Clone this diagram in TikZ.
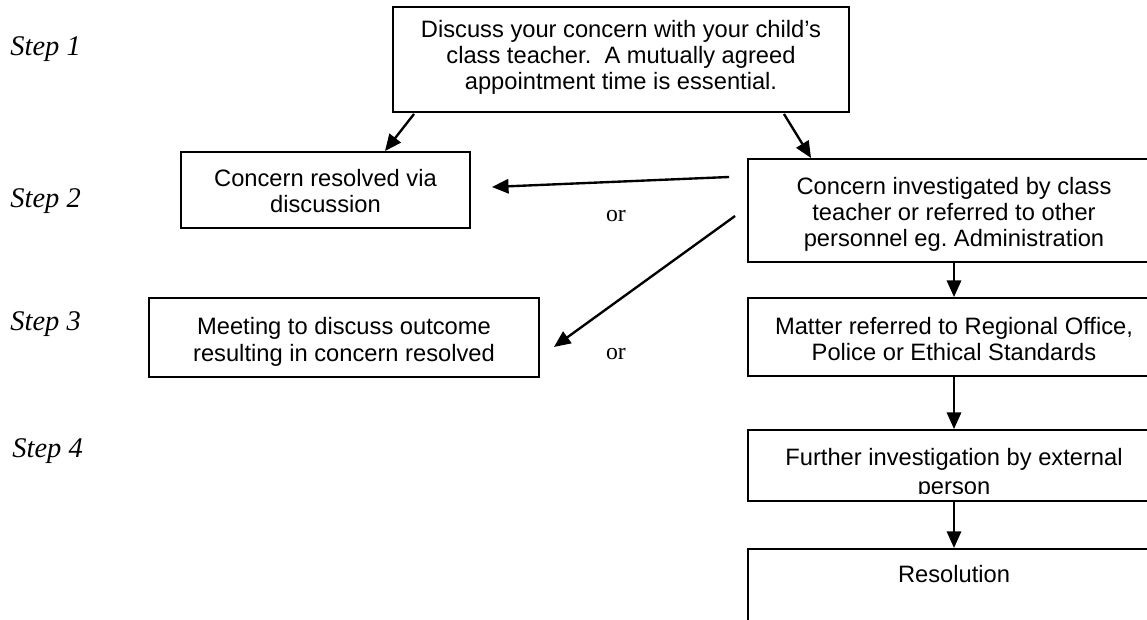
\documentclass[tikz,border=0pt]{standalone}
\usepackage{fontspec}
\setmainfont{Liberation Serif}
\setsansfont{Liberation Sans}
\usetikzlibrary{calc,arrows.meta}
\newcommand{\pxl}{0.4219pt}
\begin{document}
\begin{tikzpicture}
	[x=\pxl,y=-\pxl,
	box/.style={rectangle, draw=black, line width=0.8pt, align=center, inner sep=0pt,
		font=\sffamily\fontsize{10pt}{11pt}\selectfont},
	steplbl/.style={anchor=base west, inner sep=0pt, font=\itshape\fontsize{12pt}{14pt}\selectfont},
	orlbl/.style={anchor=base, inner sep=0pt, font=\fontsize{10pt}{12pt}\selectfont},
	arr/.style={line width=1pt, -{Triangle[length=7pt,width=6pt]}}]
	\useasboundingbox (0,0) rectangle (1147,620);
	\clip (0,0) rectangle (1147,620);

	\node[steplbl] (s1) at (10,56)  {Step 1};
	\node[steplbl] (s2) at (10,208) {Step 2};
	\node[steplbl] (s3) at (10,331) {Step 3};
	\node[steplbl] (s4) at (12,458) {Step 4};

	% text height = distance from the top edge to the last baseline
	\node[box, minimum width=456*\pxl, text height=35pt, text depth=9.3pt] (top) at (621,59.5)
		{Discuss your concern with your child’s\\class teacher.\ \ A mutually agreed\\appointment time is essential.};
	\node[box, minimum width=289*\pxl, text height=25.7pt, text depth=6.36pt] (l2) at (325.5,190)
		{Concern resolved via\\discussion};
	\node[box, minimum width=412*\pxl, text height=37pt, text depth=6.46pt] (r2) at (954,210.5)
		{Concern investigated by class\\teacher or referred to other\\personnel eg.\ Administration};
	\node[box, minimum width=390*\pxl, text height=26.6pt, text depth=6.73pt] (l3) at (344,337.5)
		{Meeting to discuss outcome\\resulting in concern resolved};
	\node[box, minimum width=412*\pxl, text height=26.2pt, text depth=6.7pt] (r3) at (954,337)
		{Matter referred to Regional Office,\\Police or Ethical Standards};
	\node[box, minimum width=412*\pxl, minimum height=71*\pxl] (r4) at (954,465.5) {};
	\begin{scope}
		% text runs past the inner margin of the box and is cut there
		\clip (r4.north west) rectangle ($(r4.south east)+(0,-8)$);
		\node[box, draw=none, font=\sffamily\fontsize{10pt}{12pt}\selectfont] (r4txt) at (954,474)
			{Further investigation by external\\person};
	\end{scope}
	\node[box, anchor=north, minimum width=412*\pxl, text height=14pt, text depth=40pt] (r5) at (954,548)
		{Resolution};

	\node[orlbl] (or1) at (616,222) {or};
	\node[orlbl] (or2) at (616,360) {or};

	\draw[arr] ($(top.south west)+(22,1)$) -- ($(l2.north)+(59.5,0)$);
	\draw[arr] ($(top.south east)+(-66,1)$) -- ($(r2.north west)+(64,0)$);
	\draw[arr] ($(r2.west)+(-18,-33.5)$) -- ($(l2.east)+(21,-3)$);
	\draw[arr] ($(r2.west)+(-12,5.5)$) -- ($(l3.east)+(14,9.5)$);
	\foreach \from/\to in {r2/r3,r3/r4,r4/r5}
		\draw[arr] (\from.south) -- (\to.north);
\end{tikzpicture}
\end{document}
